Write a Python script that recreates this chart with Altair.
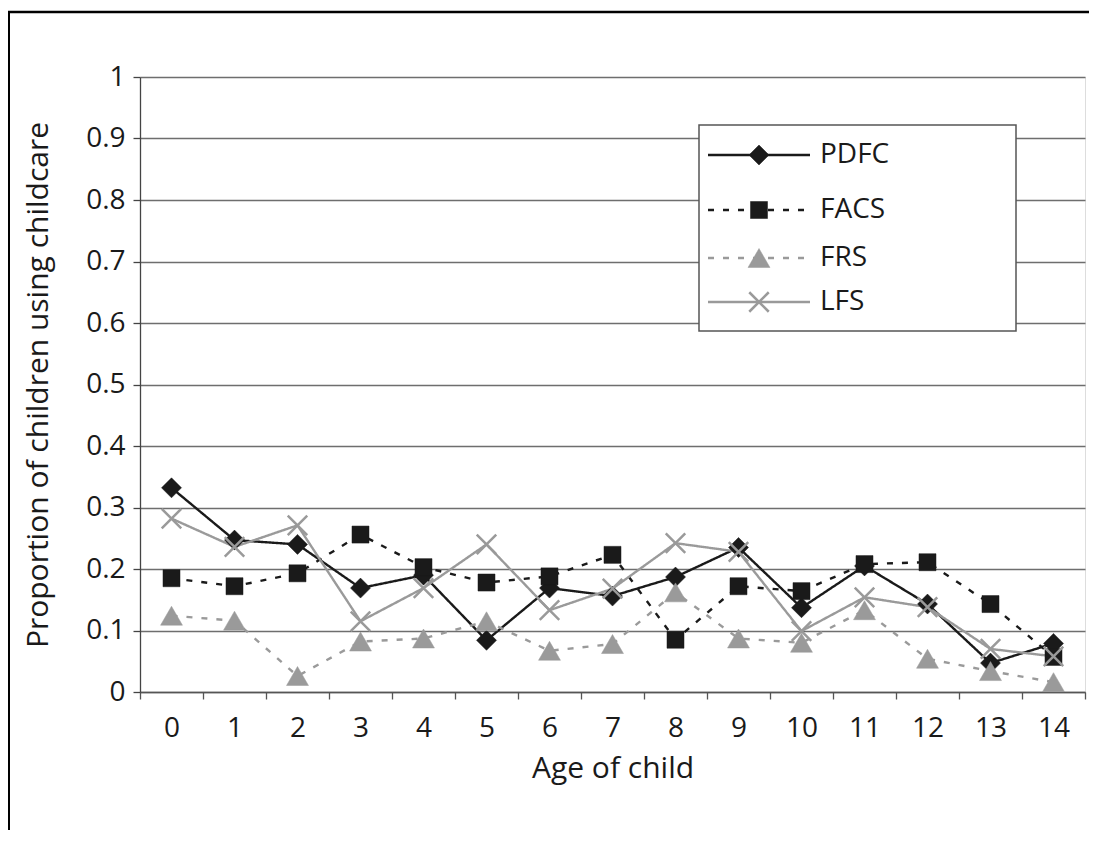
import altair as alt
import pandas as pd

# ---------------- data ----------------
ages = [str(a) for a in range(15)]
series = ["PDFC", "FACS", "FRS", "LFS"]
pdfc = [0.332, 0.247, 0.240, 0.169, 0.190, 0.084, 0.169, 0.156, 0.187, 0.235, 0.137, 0.205, 0.143, 0.047, 0.079]
facs = [0.185, 0.172, 0.193, 0.256, 0.203, 0.178, 0.188, 0.223, 0.085, 0.172, 0.164, 0.208, 0.211, 0.143, 0.057]
frs = [0.124, 0.116, 0.026, 0.082, 0.087, 0.115, 0.067, 0.078, 0.162, 0.087, 0.080, 0.133, 0.054, 0.034, 0.016]
lfs = [0.282, 0.236, 0.271, 0.115, 0.169, 0.240, 0.133, 0.168, 0.242, 0.228, 0.099, 0.154, 0.138, 0.070, 0.058]
y_ticks = [0, 0.1, 0.2, 0.3, 0.4, 0.5, 0.6, 0.7, 0.8, 0.9, 1]

# ---------------- styles / layout ----------------
W, H = 945, 615
FONT = "Open Sans"
TXT = "#1a1a1a"
colors = ["#1a1a1a", "#1a1a1a", "#9a9a9a", "#9a9a9a"]
dashes = [[1, 0], [6, 9], [6, 9], [1, 0]]
shapes = ["diamond", "square", "triangle-up", "M-1,-1L1,1M-1,1L1,-1"]
sizes = [400, 290, 480, 380]
mark_strokes = [0.5, 0.5, 0.5, 2.5]
legend_rows_y = [78, 133, 181, 225]

rows = []
for name, vals in zip(series, [pdfc, facs, frs, lfs]):
    for a, v in zip(ages, vals):
        rows.append({"age": a, "series": name, "value": v})
df = pd.DataFrame(rows)
legend_df = pd.DataFrame({"series": series, "ly": legend_rows_y})
one = pd.DataFrame({"k": [0]})

color_scale = alt.Scale(domain=series, range=colors)
dash_scale = alt.Scale(domain=series, range=dashes)
shape_scale = alt.Scale(domain=series, range=shapes)
size_scale = alt.Scale(type="ordinal", domain=series, range=sizes)
sw_scale = alt.Scale(type="ordinal", domain=series, range=mark_strokes)

x_enc = alt.X(
    "age:N",
    sort=ages,
    bandPosition=0.5,
    scale=alt.Scale(type="band", domain=ages, paddingInner=0, paddingOuter=0),
    axis=alt.Axis(
        title="Age of child", labelAngle=0, tickBand="extent", grid=False,
        domainColor="#555555", domainWidth=1.3, tickColor="#555555", tickWidth=1.3, tickSize=7,
        labelFont=FONT, labelFontSize=28, labelColor=TXT, labelBaseline="alphabetic", labelPadding=37,
        titleFont=FONT, titleFontSize=30, titleFontWeight="normal", titleColor=TXT,
        titleX=W / 2, titleY=85, titleBaseline="alphabetic", titleAlign="center",
    ),
)
y_enc = alt.Y(
    "value:Q",
    scale=alt.Scale(domain=[0, 1], nice=False, zero=True),
    axis=alt.Axis(
        values=y_ticks, format="~g", title="Proportion of children using childcare",
        grid=True, gridColor="#6e6e6e", gridWidth=1.3,
        domainColor="#444444", domainWidth=1.3, tickColor="#444444", tickWidth=1.3, tickSize=7,
        labelFont=FONT, labelFontSize=28, labelColor=TXT, labelPadding=8,
        titleFont=FONT, titleFontSize=30, titleFontWeight="normal", titleColor=TXT,
        titleAngle=270, titleX=-93, titleY=H / 2, titleBaseline="alphabetic", titleAlign="center",
    ),
)

frame_top = alt.Chart(one).mark_rule(color="black", strokeWidth=2.6).encode(
    x=alt.value(-132), x2=alt.value(949), y=alt.value(-65))
frame_left = alt.Chart(one).mark_rule(color="black", strokeWidth=2.6).encode(
    x=alt.value(-131.3), y=alt.value(-65), y2=alt.value(760))

lines = alt.Chart(df).mark_line(strokeWidth=2.4).encode(
    x=x_enc, y=y_enc,
    color=alt.Color("series:N", scale=color_scale, legend=None),
    strokeDash=alt.StrokeDash("series:N", scale=dash_scale, legend=None),
    detail="series:N",
)
points = alt.Chart(df).mark_point(filled=True, opacity=1).encode(
    x=x_enc, y=y_enc,
    color=alt.Color("series:N", scale=color_scale, legend=None),
    stroke=alt.Stroke("series:N", scale=color_scale, legend=None),
    shape=alt.Shape("series:N", scale=shape_scale, legend=None),
    size=alt.Size("series:N", scale=size_scale, legend=None),
    strokeWidth=alt.StrokeWidth("series:N", scale=sw_scale, legend=None),
)

leg_box = alt.Chart(one).mark_rect(fill="white", stroke="#555555", strokeWidth=1.5).encode(
    x=alt.value(559), x2=alt.value(876), y=alt.value(48), y2=alt.value(254))
leg_lines = alt.Chart(legend_df).mark_rule(strokeWidth=2.4).encode(
    x=alt.value(568), x2=alt.value(670),
    y=alt.Y("ly:Q", scale=None),
    color=alt.Color("series:N", scale=color_scale, legend=None),
    strokeDash=alt.StrokeDash("series:N", scale=dash_scale, legend=None),
)
leg_points = alt.Chart(legend_df).mark_point(filled=True, opacity=1).encode(
    x=alt.value(619),
    y=alt.Y("ly:Q", scale=None),
    color=alt.Color("series:N", scale=color_scale, legend=None),
    stroke=alt.Stroke("series:N", scale=color_scale, legend=None),
    shape=alt.Shape("series:N", scale=shape_scale, legend=None),
    size=alt.Size("series:N", scale=size_scale, legend=None),
    strokeWidth=alt.StrokeWidth("series:N", scale=sw_scale, legend=None),
)
leg_text = alt.Chart(legend_df).mark_text(
    align="left", baseline="middle", font=FONT, fontSize=28, color=TXT).encode(
    x=alt.value(680), y=alt.Y("ly:Q", scale=None), text="series:N")

chart = alt.layer(
    frame_top, frame_left, lines, points, leg_box, leg_lines, leg_points, leg_text
).properties(
    width=W, height=H,
    autosize=alt.AutoSizeParams(type="none"),
    padding={"left": 132, "top": 69, "right": 4, "bottom": 138},
).configure_view(stroke=None).configure(font=FONT, background="white")

chart.save("out.html", embed_options={"renderer": "svg", "actions": False})
